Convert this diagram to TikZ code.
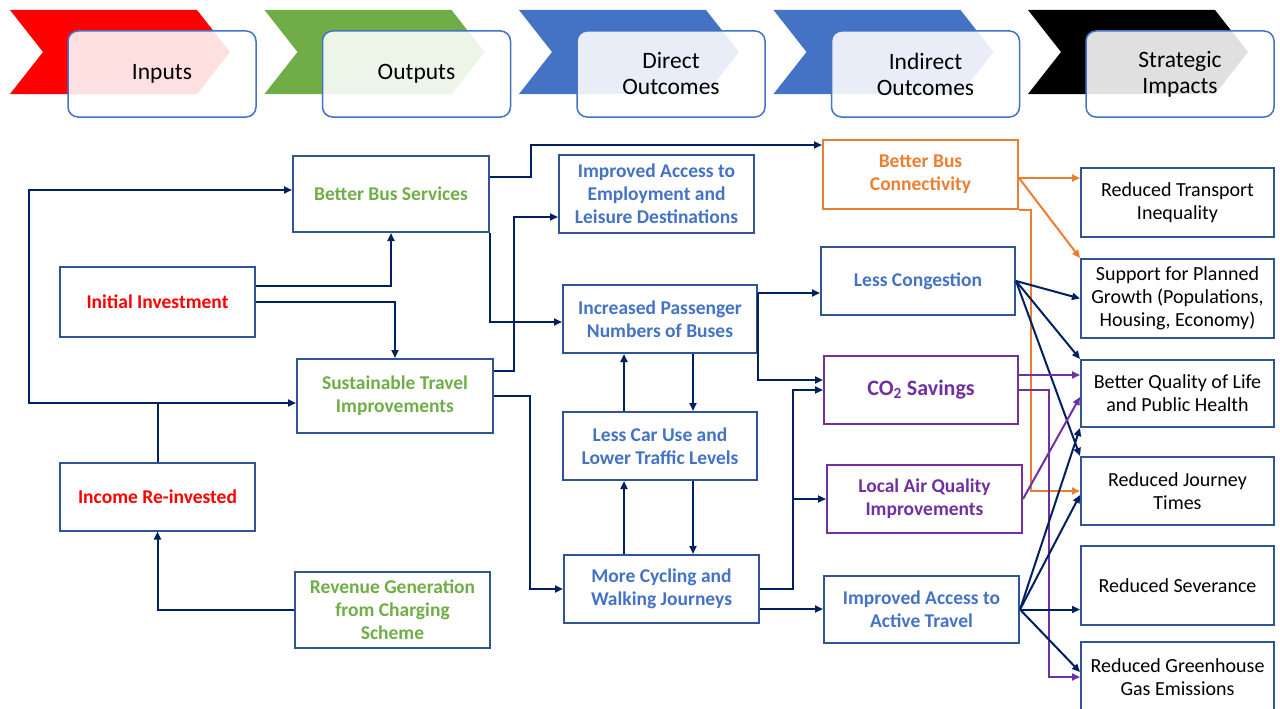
\documentclass[tikz,border=0pt]{standalone}
\usepackage{fontspec}
\setmainfont{Carlito}
\usetikzlibrary{arrows.meta}

\definecolor{linknavy}{RGB}{0,32,96}
\definecolor{boxblue}{RGB}{47,85,151}
\definecolor{txtblue}{RGB}{68,114,196}
\definecolor{txtgreen}{RGB}{112,173,71}
\definecolor{txtorange}{RGB}{237,125,49}
\definecolor{txtpurple}{RGB}{112,48,160}

\begin{document}
\begin{tikzpicture}[x=1pt, y=-1pt, >={Triangle[length=8pt,width=7pt]},
    hdr/.style={rectangle, rounded corners=10pt, draw=txtblue, line width=1.5pt, fill=white, fill opacity=0.88, text opacity=1, minimum width=188pt, minimum height=86pt, align=center, font=\fontsize{23.5}{26}\selectfont},
    box/.style={rectangle, draw=boxblue, line width=2pt, align=center, minimum width=195pt, minimum height=68pt, inner sep=2pt, font=\bfseries\fontsize{19.5}{23}\selectfont},
    impact/.style={box, minimum width=193pt, font=\fontsize{20}{23}\selectfont},
    link/.style={draw=linknavy, line width=2pt, ->}]

    \useasboundingbox (0,0) rectangle (1280,709);

    % Stage banners
    \foreach \col/\txt [count=\i from 0] in {red/Inputs, txtgreen/Outputs, txtblue/{Direct\\Outcomes}, txtblue/{Indirect\\Outcomes}, black/{Strategic\\Impacts}} {
      \pgfmathsetmacro\xo{10+254.5*\i}
      \fill[\col] (\xo,10) -- ++(187,0) -- ++(33,42) -- ++(-33,42) -- ++(-187,0) -- ++(33,-42) -- cycle;
      \node[hdr] (hd\i) at (\xo+152,74) {\txt};
    }

    % Inputs and outputs
    \node[box, text=txtgreen, minimum width=196pt, minimum height=76pt] (bbs) at (391,194) {Better Bus Services};
    \node[box, text=red, minimum height=70pt] (init) at (157.5,302) {Initial Investment};
    \node[box, text=txtgreen, minimum width=196pt, minimum height=74pt] (sust) at (395,396) {Sustainable Travel\\Improvements};
    \node[box, text=red] (inc) at (157.5,496.5) {Income Re-invested};
    \node[box, text=txtgreen, minimum height=76pt] (rev) at (392.5,610) {Revenue Generation\\from Charging\\Scheme};

    % Direct outcomes
    \node[box, text=txtblue, minimum height=78pt] (emp) at (656.5,194) {Improved Access to\\Employment and\\Leisure Destinations};
    \node[box, text=txtblue, minimum width=194pt] (pass) at (660,319) {Increased Passenger\\Numbers of Buses};
    \node[box, text=txtblue, minimum width=194pt] (car) at (660,446) {Less Car Use and\\Lower Traffic Levels};
    \node[box, text=txtblue] (cyc) at (661.5,589) {More Cycling and\\Walking Journeys};

    % Indirect outcomes
    \node[box, draw=txtorange, text=txtorange, minimum height=69pt] (conn) at (920.5,174.5) {Better Bus\\Connectivity};
    \node[box, text=txtblue, minimum width=194pt] (cong) at (918,281) {Less Congestion};
    \node[box, draw=txtpurple, text=txtpurple, minimum width=194pt, font=\bfseries\fontsize{22}{26}\selectfont] (co2) at (921,390) {CO\textsubscript{2} Savings};
    \node[box, draw=txtpurple, text=txtpurple] (air) at (924.5,499) {Local Air Quality\\Improvements};
    \node[box, text=txtblue, minimum height=67pt] (act) at (921.5,609.5) {Improved Access to\\Active Travel};

    % Strategic impacts
    \node[impact, minimum height=69pt] (ineq) at (1177.5,202.5) {Reduced Transport\\Inequality};
    \node[impact, minimum height=79pt] (growth) at (1177.5,298.5) {Support for Planned\\Growth (Populations,\\Housing, Economy)};
    \node[impact, minimum height=67pt] (qol) at (1177.5,393.5) {Better Quality of Life\\and Public Health};
    \node[impact] (jour) at (1177.5,491) {Reduced Journey\\Times};
    \node[impact, minimum height=79pt] (sev) at (1177.5,585.5) {Reduced Severance};
    \node[impact, minimum height=70pt] (ghg) at (1177.5,677) {Reduced Greenhouse\\Gas Emissions};

    % Funding loop
    \coordinate (lp) at (29,403);
    \draw[link] (inc.north) |- (sust.west |- lp);
    \draw[link] (inc.north |- lp) -- (lp) |- ([yshift=4pt]bbs.west);
    \draw[link] ([yshift=16pt]init.east) -| (bbs.south);
    \draw[link] (init.east) -| (sust.north);
    \draw[link] (rev.west) -| (inc.south);

    % Outputs to direct outcomes
    \draw[link] ([yshift=17pt]bbs.east) -- ++(41,0) |- ([yshift=29.5pt]conn.west);
    \draw[link] (bbs.south east) |- ([yshift=-3pt]pass.west);
    \draw[link] ([yshift=25pt]sust.east) -- ++(20,0) |- ([yshift=-23pt]emp.west);
    \draw[link] (sust.east) -- ++(36,0) |- (cyc.west);
    \draw[link] ([xshift=33pt]pass.south) -- ([xshift=33pt]pass.south |- car.north);
    \draw[link] ([xshift=-36pt]pass.south |- car.north) -- ([xshift=-36pt]pass.south);
    \draw[link] ([xshift=33pt]car.south) -- ([xshift=33pt]car.south |- cyc.north);
    \draw[link] ([xshift=-36pt]car.south |- cyc.north) -- ([xshift=-36pt]car.south);

    % Direct to indirect outcomes
    \draw[link] ([yshift=26pt]pass.east) -- ([yshift=26pt]pass.east -| cong.west);
    \draw[link] ([yshift=26pt]pass.east) |- ([yshift=10pt]co2.west);
    \draw[link] (cyc.east) -- ++(33,0) |- (co2.west);
    \draw[link] ([xshift=33pt]cyc.east |- air.west) -- (air.west);
    \draw[link] ([yshift=-20pt]cyc.east) -- ([yshift=-20pt]cyc.east -| act.west);

    % Indirect outcomes to impacts
    \draw[link, draw=txtorange] ([yshift=-3.5pt]conn.east) -- ([yshift=-3.5pt]conn.east -| ineq.west);
    \draw[link, draw=txtorange] ([yshift=-3.5pt]conn.east) -- (growth.north west);
    \draw[link, draw=txtorange] (conn.south east) -- ++(12,0) |- (jour.west);
    \draw[link] (cong.east) -- (growth.west);
    \draw[link] (cong.east) -- (qol.north west);
    \draw[link] (cong.east) -- (jour.north west);
    \draw[link, draw=txtpurple] ([yshift=15pt]co2.east) -- ([yshift=15pt]co2.east -| qol.west);
    \draw[link, draw=txtpurple] (co2.east) -- ++(30,0) |- (ghg.west);
    \draw[link, draw=txtpurple] (air.east) -- ([yshift=-3.5pt]qol.west);
    \draw[link] (act.east) -- (qol.south west);
    \draw[link] (act.east) -- ([yshift=-4pt]jour.west);
    \draw[link] (act.east) -- (act.east -| sev.west);
    \draw[link] (act.east) -- ([yshift=5pt]ghg.west);

\end{tikzpicture}
\end{document}
